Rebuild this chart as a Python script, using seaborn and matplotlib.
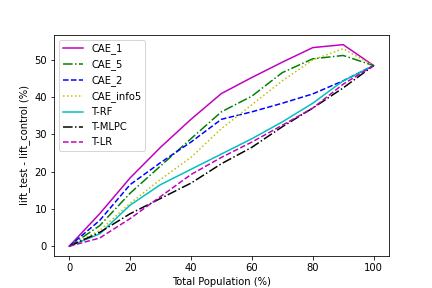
import pandas as pd
import matplotlib
matplotlib.use('Agg')
import matplotlib.pyplot as plt
import seaborn as sns

population = [0, 10, 20, 30, 40, 50, 60, 70, 80, 90, 100]

cae_1 = [0, 8.7, 18.3, 26.5, 34.0, 40.9, 45.2, 49.3, 53.2, 54.0, 48.4]
cae_5 = [0, 5.5, 14.2, 21.5, 28.8, 36.0, 40.2, 46.5, 50.2, 51.1, 48.4]
cae_2 = [0, 6.9, 16.5, 22.4, 27.9, 34.0, 36.0, 38.3, 40.8, 44.3, 48.4]
cae_info5 = [0, 4.2, 11.5, 17.9, 23.8, 31.5, 37.9, 44.3, 49.9, 52.9, 48.4]
t_rf = [0, 3.3, 11.0, 16.5, 20.6, 24.7, 28.8, 33.3, 38.3, 44.3, 48.4]
t_mlpc = [0, 3.7, 8.7, 12.8, 16.9, 22.1, 26.5, 32.0, 37.0, 42.4, 48.4]
t_lr = [0, 2.2, 7.4, 13.3, 19.2, 23.8, 27.9, 32.4, 37.0, 43.4, 48.4]

series = [
    ('CAE_1', cae_1, 'm', '-'),
    ('CAE_5', cae_5, 'g', '-.'),
    ('CAE_2', cae_2, 'b', '--'),
    ('CAE_info5', cae_info5, 'y', ':'),
    ('T-RF', t_rf, 'c', '-'),
    ('T-MLPC', t_mlpc, 'k', '-.'),
    ('T-LR', t_lr, 'm', '--'),
]

fig, ax = plt.subplots(figsize=(6, 4), dpi=72)
for name, values, color, ls in series:
    df = pd.DataFrame({'x': population, 'y': values})
    sns.lineplot(data=df, x='x', y='y', ax=ax, color=color, linestyle=ls,
                 label=name, linewidth=1.5)

ax.set_xlabel('Total Population (%)')
ax.set_ylabel('lift_test - lift_control (%)')
ax.legend(loc='upper left')
plt.savefig('out.png', dpi=72)
